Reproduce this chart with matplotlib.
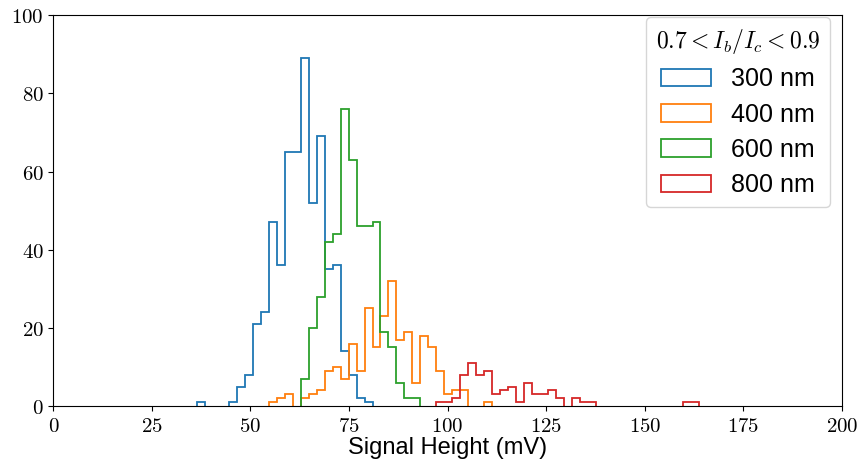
import numpy as np
import matplotlib
matplotlib.use("Agg")
import matplotlib.pyplot as plt
from matplotlib.ticker import FuncFormatter

plt.rcParams['mathtext.fontset'] = 'cm'

# shared bin grid (mV)
bin_lo = 36.5
bin_hi = 163.8
n_bins = 63

labels = ["300 nm", "400 nm", "600 nm", "800 nm"]
colors = ["C0", "C1", "C2", "C3"]

# counts per bin, starting at bin index first_bin
counts_300 = [1, 0, 0, 0, 1, 5, 8, 21, 24, 47, 36, 65, 65, 89, 52, 69, 35, 36, 14, 8, 2, 1]
counts_400 = [1, 2, 3, 0, 2, 3, 4, 9, 10, 7, 16, 9, 25, 15, 23, 32, 17, 19, 6, 18, 15, 9, 3, 4, 4, 0, 0, 1]
counts_600 = [7, 20, 28, 42, 44, 76, 63, 46, 46, 47, 19, 15, 6, 2, 2]
counts_800 = [1, 1, 2, 8, 11, 8, 9, 3, 4, 5, 1, 6, 3, 3, 4, 2, 0, 2, 1, 1,
              0, 0, 0, 0, 0, 0, 0, 0, 0, 0, 0, 1, 1]
first_bin = [0, 9, 13, 30]

all_counts = [counts_300, counts_400, counts_600, counts_800]

edges = np.linspace(bin_lo, bin_hi, n_bins + 1)
centers = 0.5 * (edges[:-1] + edges[1:])


def runs(cnt):
    # contiguous stretches of non-empty bins
    out = []
    start = None
    for i, c in enumerate(list(cnt) + [0]):
        if c > 0 and start is None:
            start = i
        elif c == 0 and start is not None:
            out.append((start, i))
            start = None
    return out


fig, ax = plt.subplots(figsize=(8.6, 4.62), dpi=100)
fig.subplots_adjust(left=0.062, right=0.979, top=0.967, bottom=0.121)

for cnt, s, lab, col in zip(all_counts, first_bin, labels, colors):
    for j, (a, b) in enumerate(runs(cnt)):
        ax.hist(centers[s + a:s + b], bins=edges[s + a:s + b + 1],
                weights=cnt[a:b], histtype='step', color=col, linewidth=1.3,
                label=lab if j == 0 else "_nolegend_")

ax.set_xlim(0, 200)
ax.set_ylim(0, 100)
ax.set_xticks(np.arange(0, 201, 25))
ax.set_yticks(np.arange(0, 101, 20))
fmt = FuncFormatter(lambda v, p: "$%d$" % v)
ax.xaxis.set_major_formatter(fmt)
ax.yaxis.set_major_formatter(fmt)
ax.tick_params(labelsize=15)
ax.set_xlabel("Signal Height (mV)", fontsize=17, family="Liberation Sans", labelpad=1)

ax.legend(loc='upper right', bbox_to_anchor=(0.985, 0.995),
          prop={'family': 'Liberation Sans', 'size': 18},
          title=r"$0.7 < I_b/I_c < 0.9$", title_fontsize=17,
          borderaxespad=0, labelspacing=0.45)

fig.savefig("out.png", dpi=100)
